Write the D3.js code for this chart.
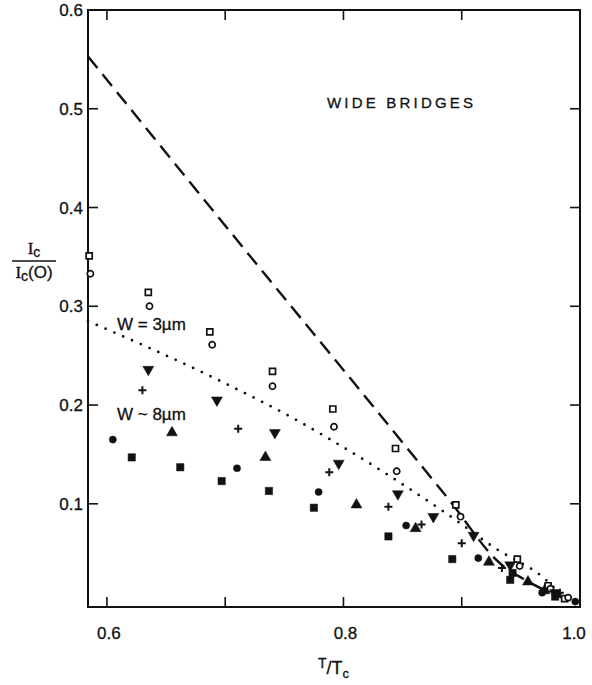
<!DOCTYPE html>
<html>
  <head>
    <meta charset="utf-8">
    <title>Wide bridges</title>
    <script src="https://d3js.org/d3.v7.min.js"></script>
    <style>
      body { margin: 0; background: #fff; }
      svg text { font-family: "Liberation Sans", Arial, sans-serif; fill: #111; stroke: #111; stroke-width: 0.3px; }
    </style>
  </head>
  <body>
    <svg id="chart" width="592" height="685"></svg>
    <script>
      // data: [T/Tc, Ic/Ic(0)]
      openSquares = [[0.585, 0.351], [0.635, 0.314], [0.687, 0.274], [0.740, 0.234], [0.791, 0.196], [0.844, 0.156], [0.895, 0.099], [0.947, 0.044], [0.973, 0.017], [0.987, 0.004]];
      openCircles = [[0.586, 0.333], [0.636, 0.300], [0.689, 0.261], [0.740, 0.219], [0.792, 0.178], [0.845, 0.133], [0.899, 0.087], [0.949, 0.037], [0.975, 0.014], [0.990, 0.005]];
      downTriangles = [[0.635, 0.236], [0.693, 0.205], [0.742, 0.172], [0.796, 0.141], [0.846, 0.110], [0.876, 0.087], [0.910, 0.068], [0.941, 0.038], [0.979, 0.010]];
      pluses = [[0.630, 0.215], [0.711, 0.176], [0.788, 0.132], [0.838, 0.097], [0.866, 0.079], [0.900, 0.060], [0.934, 0.035], [0.983, 0.010]];
      upTriangles = [[0.655, 0.172], [0.734, 0.147], [0.811, 0.099], [0.861, 0.075], [0.923, 0.041], [0.956, 0.021], [0.970, 0.012]];
      dots = [[0.605, 0.165], [0.710, 0.136], [0.779, 0.112], [0.853, 0.078], [0.914, 0.045], [0.968, 0.010], [0.996, 0.001]];
      blocks = [[0.621, 0.147], [0.662, 0.137], [0.697, 0.123], [0.737, 0.113], [0.775, 0.096], [0.838, 0.067], [0.892, 0.044], [0.941, 0.023], [0.943, 0.030], [0.979, 0.006]];
      dashedCurve = [[0.584, 0.553], [0.740, 0.323], [0.814, 0.215], [0.888, 0.106], [0.934, 0.038], [0.955, 0.022], [0.975, 0.010], [0.996, 0.0]];
      dottedCurve = [[0.584, 0.285], [0.693, 0.226], [0.763, 0.183], [0.789, 0.165], [0.886, 0.091], [0.931, 0.053], [0.964, 0.030], [0.989, 0.005], [0.998, 0.0]];
      xTicks = [0.6, 0.7, 0.8, 0.9];
      xLabels = [0.6, 0.8, 1.0];
      yTicks = [0.1, 0.2, 0.3, 0.4, 0.5];
      yLabels = [0.1, 0.2, 0.3, 0.4, 0.5, 0.6];

      svg = d3.select("#chart");
      x = d3.scaleLinear().domain([0.584, 1.0]).range([88, 580]);
      y = d3.scaleLinear().domain([-0.0045, 0.6]).range([607, 10]);

      // frame
      svg.append("rect")
        .attr("x", x(0.584)).attr("y", y(0.6))
        .attr("width", x(1.0) - x(0.584)).attr("height", y(-0.0045) - y(0.6))
        .attr("fill", "none").attr("stroke", "#111").attr("stroke-width", 2);

      // inward ticks
      tickLen = 10;
      ticks = svg.append("g").attr("stroke", "#111").attr("stroke-width", 1.6);
      xTicks.forEach(function(d) {
        ticks.append("line").attr("x1", x(d)).attr("x2", x(d)).attr("y1", y(-0.0045)).attr("y2", y(-0.0045) - tickLen);
        ticks.append("line").attr("x1", x(d)).attr("x2", x(d)).attr("y1", y(0.6)).attr("y2", y(0.6) + tickLen);
      });
      yTicks.forEach(function(d) {
        ticks.append("line").attr("x1", x(0.584)).attr("x2", x(0.584) + tickLen).attr("y1", y(d)).attr("y2", y(d));
        ticks.append("line").attr("x1", x(1.0)).attr("x2", x(1.0) - tickLen).attr("y1", y(d)).attr("y2", y(d));
      });

      // tick labels
      svg.selectAll(".ylab").data(yLabels).enter().append("text")
        .attr("x", 83).attr("y", function(d) { return y(d); })
        .attr("dy", "0.36em").attr("text-anchor", "end")
        .style("font-size", "17px")
        .text(function(d) { return d.toFixed(1); });
      svg.selectAll(".xlab").data(xLabels).enter().append("text")
        .attr("x", function(d) { return x(d) + (d === 1.0 ? -6 : 2); }).attr("y", 639)
        .attr("text-anchor", "middle")
        .style("font-size", "17px")
        .text(function(d) { return d.toFixed(1); });

      // axis titles
      xt = svg.append("text").attr("x", 318).attr("y", 674).style("font-size", "18px");
      xt.append("tspan").attr("dy", -6).style("font-size", "14px").text("T");
      xt.append("tspan").attr("dy", 6).text("/T");
      xt.append("tspan").attr("dy", 4).style("font-size", "13px").text("c");

      yt = svg.append("g");
      t1 = yt.append("text").attr("x", 34).attr("y", 254).attr("text-anchor", "middle").style("font-size", "17px");
      t1.append("tspan").style("font-family", "Liberation Serif, serif").text("I");
      t1.append("tspan").attr("dy", 3).style("font-size", "14px").text("c");
      yt.append("line").attr("x1", 12).attr("x2", 56).attr("y1", 261).attr("y2", 261)
        .attr("stroke", "#111").attr("stroke-width", 1.6);
      t2 = yt.append("text").attr("x", 34).attr("y", 278).attr("text-anchor", "middle").style("font-size", "17px");
      t2.append("tspan").style("font-family", "Liberation Serif, serif").text("I");
      t2.append("tspan").attr("dy", 3).style("font-size", "14px").text("c");
      t2.append("tspan").attr("dy", -3).text("(O)");

      // curves
      line = d3.line()
        .x(function(d) { return x(d[0]); })
        .y(function(d) { return y(d[1]); })
        .curve(d3.curveMonotoneX);
      svg.append("path").datum(dashedCurve).attr("d", line)
        .attr("fill", "none").attr("stroke", "#111").attr("stroke-width", 2.4)
        .attr("stroke-dasharray", "15 8");
      svg.append("path").datum(dottedCurve).attr("d", line)
        .attr("fill", "none").attr("stroke", "#111").attr("stroke-width", 2.8)
        .attr("stroke-linecap", "round").attr("stroke-dasharray", "0 9.6");

      // markers
      function plot(data, type, size, filled, rotate) {
        svg.append("g").selectAll("path").data(data).enter().append("path")
          .attr("transform", function(d) { return "translate(" + x(d[0]) + "," + y(d[1]) + ")" + (rotate ? " rotate(180)" : ""); })
          .attr("d", d3.symbol().type(type).size(size))
          .attr("fill", filled ? "#111" : "#fff")
          .attr("stroke", "#111").attr("stroke-width", filled ? 0.5 : 1.7);
      }
      plot(openSquares, d3.symbolSquare, 36, false);
      plot(openCircles, d3.symbolCircle, 30, false);
      plot(downTriangles, d3.symbolTriangle, 52, true, true);
      plot(upTriangles, d3.symbolTriangle, 52, true);
      plot(dots, d3.symbolCircle, 40, true);
      plot(blocks, d3.symbolSquare, 54, true);
      svg.append("g").selectAll("path").data(pluses).enter().append("path")
        .attr("transform", function(d) { return "translate(" + x(d[0]) + "," + y(d[1]) + ")"; })
        .attr("d", "M-4,0H4M0,-4V4")
        .attr("stroke", "#111").attr("stroke-width", 2);

      // annotations
      svg.append("text").attr("x", 327).attr("y", 108).attr("textLength", 146)
        .style("font-size", "15px").text("WIDE  BRIDGES");
      svg.append("text").attr("x", 117).attr("y", 330).style("font-size", "17px").text("W = 3\u00b5m");
      svg.append("text").attr("x", 117).attr("y", 420).style("font-size", "17px").text("W ~ 8\u00b5m");
    </script>
  </body>
</html>
